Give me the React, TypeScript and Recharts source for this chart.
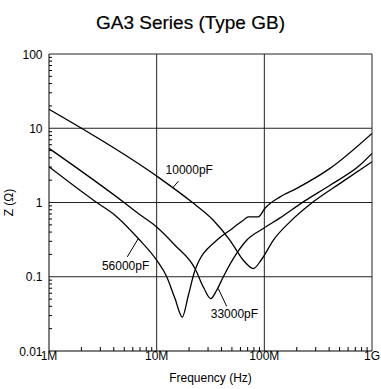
import React from 'react';
import { LineChart, Line, XAxis, YAxis, ReferenceLine, ReferenceDot, Label } from 'recharts';

const FONT = '"Liberation Sans", Arial, Helvetica, sans-serif';

const chartTitle = 'GA3 Series (Type GB)';
const xAxisTitle = 'Frequency (Hz)';
const yAxisTitle = 'Z (Ω)';

const xMajorTicks = [1e6, 1e7, 1e8, 1e9];
const xTickLabels = ['1M', '10M', '100M', '1G'];
const yMajorTicks = [0.01, 0.1, 1, 10, 100];
const yTickLabels = ['0.01', '0.1', '1', '10', '100'];
const minorSteps = [2, 3, 4, 5, 6, 7, 8, 9];
const xMinorTicks = [1e6, 1e7, 1e8].flatMap((d) => minorSteps.map((m) => m * d));
const yMinorTicks = [0.01, 0.1, 1, 10].flatMap((d) => minorSteps.map((m) => +(m * d).toPrecision(6)));

// 10000pF
const freq10000 = [1e6, 1e7, 2.11e7, 3.36e7, 4.8e7, 6.38e7, 7.9e7, 9.45e7, 1.21e8, 1.73e8, 2.85e8, 5.05e8, 1e9];
const z10000 = [18.0, 2.27, 1.02, 0.578, 0.31, 0.167, 0.129, 0.172, 0.31, 0.548, 1.02, 1.81, 3.53];

// 33000pF
const freq33000 = [1e6, 4.98e6, 6.75e6, 1e7, 1.48e7, 2.27e7, 2.75e7, 3.18e7, 3.61e7, 4.16e7, 5.53e7, 6.85e7, 9.78e7, 1.4e8, 2.3e8, 4.07e8, 7.74e8, 1e9];
const z33000 = [5.36, 1.0, 0.711, 0.469, 0.266, 0.129, 0.07, 0.0508, 0.0658, 0.1, 0.206, 0.31, 0.447, 0.621, 1.02, 1.71, 3.19, 4.58];

// 56000pF
const freq56000 = [1e6, 2.67e6, 4.1e6, 6.75e6, 1e7, 1.24e7, 1.48e7, 1.73e7, 1.97e7, 2.27e7, 3.61e7, 4.8e7, 6.38e7, 7.1e7, 8.79e7, 1.01e8, 1.4e8, 2.0e8, 4.07e8, 1e9];
const z56000 = [3.03, 1.04, 0.675, 0.327, 0.167, 0.1, 0.0508, 0.0287, 0.0564, 0.122, 0.31, 0.424, 0.578, 0.64, 0.64, 0.83, 1.19, 1.55, 2.88, 8.53];

// annotations (data coordinates)
const seriesLabels = ['10000pF', '33000pF', '56000pF'];
const labelFreq = [12.1e6, 31.8e6, 3.1e6];
const labelZ = [2.73, 0.0319, 0.1387];
const pointerFrom = [
  { x: 15.95e6, y: 1.94 },
  { x: 44.7e6, y: 0.04 },
  { x: 5.33e6, y: 0.185 },
];
const pointerTo = [
  { x: 14.0e6, y: 1.56 },
  { x: 37.3e6, y: 0.0693 },
  { x: 6.75e6, y: 0.327 },
];

const zip = (fs: number[], zs: number[]) => fs.map((f, i) => ({ f, z: zs[i] }));
const data10000 = zip(freq10000, z10000);
const data33000 = zip(freq33000, z33000);
const data56000 = zip(freq56000, z56000);

const findMajor = (v: number, majors: number[]) =>
  majors.findIndex((m) => Math.abs(v / m - 1) < 1e-6);

const XTick = (props: any) => {
  const { x, y, payload } = props;
  const i = findMajor(payload.value, xMajorTicks);
  if (i >= 0) {
    return (
      <text x={x} y={y + 9} textAnchor="middle" fontSize={12} fill="#000" fontFamily={FONT}>
        {xTickLabels[i]}
      </text>
    );
  }
  return <line x1={x} x2={x} y1={y} y2={y - 4} stroke="#000" strokeWidth={1} />;
};

const YTick = (props: any) => {
  const { x, y, payload } = props;
  const i = findMajor(payload.value, yMajorTicks);
  if (i >= 0) {
    return (
      <text x={x - 6.5} y={y} dy="0.38em" textAnchor="end" fontSize={12} fill="#000" fontFamily={FONT}>
        {yTickLabels[i]}
      </text>
    );
  }
  return <line x1={x} x2={x + 3} y1={y} y2={y} stroke="#000" strokeWidth={1} />;
};

const GRID = '#222';

export default function App() {
  return (
    <div style={{ position: 'absolute', left: 0, top: 0, width: 381, height: 389, background: '#fff', fontFamily: FONT }}>
      <div
        style={{
          position: 'absolute',
          left: 0,
          top: 12.7,
          width: 381,
          textAlign: 'center',
          fontSize: 19,
          fontWeight: 'normal',
          lineHeight: '19px',
          color: '#000',
          WebkitTextStroke: '0.2px #000',
        }}
      >
        {chartTitle}
      </div>
      <LineChart width={381} height={389} margin={{ top: 54, right: 9, bottom: 0, left: 0 }}>
        <XAxis
          dataKey="f"
          type="number"
          scale="log"
          domain={[1e6, 1e9]}
          allowDataOverflow
          ticks={[...xMajorTicks, ...xMinorTicks]}
          interval={0}
          tickSize={0}
          tickMargin={0}
          tickLine={false}
          tick={(p: any) => <XTick {...p} />}
          axisLine={{ stroke: '#000', strokeWidth: 1 }}
          height={38}
        >
          <Label value={xAxisTitle} position="insideBottom" offset={7} fontSize={12} fill="#000" fontFamily={FONT} />
        </XAxis>
        <YAxis
          dataKey="z"
          type="number"
          scale="log"
          domain={[0.01, 100]}
          allowDataOverflow
          ticks={[...yMajorTicks, ...yMinorTicks]}
          interval={0}
          tickSize={0}
          tickMargin={0}
          tickLine={false}
          tick={(p: any) => <YTick {...p} />}
          axisLine={{ stroke: '#000', strokeWidth: 1 }}
          width={49}
        >
          <Label
            value={yAxisTitle}
            angle={-90}
            position="insideLeft"
            offset={9}
            fontSize={12}
            fill="#000"
            fontFamily={FONT}
            style={{ textAnchor: 'middle' }}
          />
        </YAxis>

        {xMajorTicks.slice(1).map((v) => (
          <ReferenceLine key={'vx' + v} x={v} stroke={GRID} strokeWidth={1} />
        ))}
        {yMajorTicks.slice(1).map((v) => (
          <ReferenceLine key={'hy' + v} y={v} stroke={GRID} strokeWidth={1} />
        ))}

        <Line data={data10000} dataKey="z" type="monotone" stroke="#000" strokeWidth={1.3} dot={false} isAnimationActive={false} />
        <Line data={data33000} dataKey="z" type="monotone" stroke="#000" strokeWidth={1.3} dot={false} isAnimationActive={false} />
        <Line data={data56000} dataKey="z" type="monotone" stroke="#000" strokeWidth={1.3} dot={false} isAnimationActive={false} />

        {seriesLabels.map((s, i) => (
          <ReferenceLine key={'pl' + s} segment={[pointerFrom[i], pointerTo[i]]} stroke="#000" strokeWidth={1} />
        ))}
        {seriesLabels.map((s, i) => (
          <ReferenceDot
            key={'lb' + s}
            x={labelFreq[i]}
            y={labelZ[i]}
            r={0}
            fill="none"
            stroke="none"
            label={{ value: s, position: 'right', offset: 0, fontSize: 12, fill: '#000', fontFamily: FONT }}
          />
        ))}
      </LineChart>
    </div>
  );
}
